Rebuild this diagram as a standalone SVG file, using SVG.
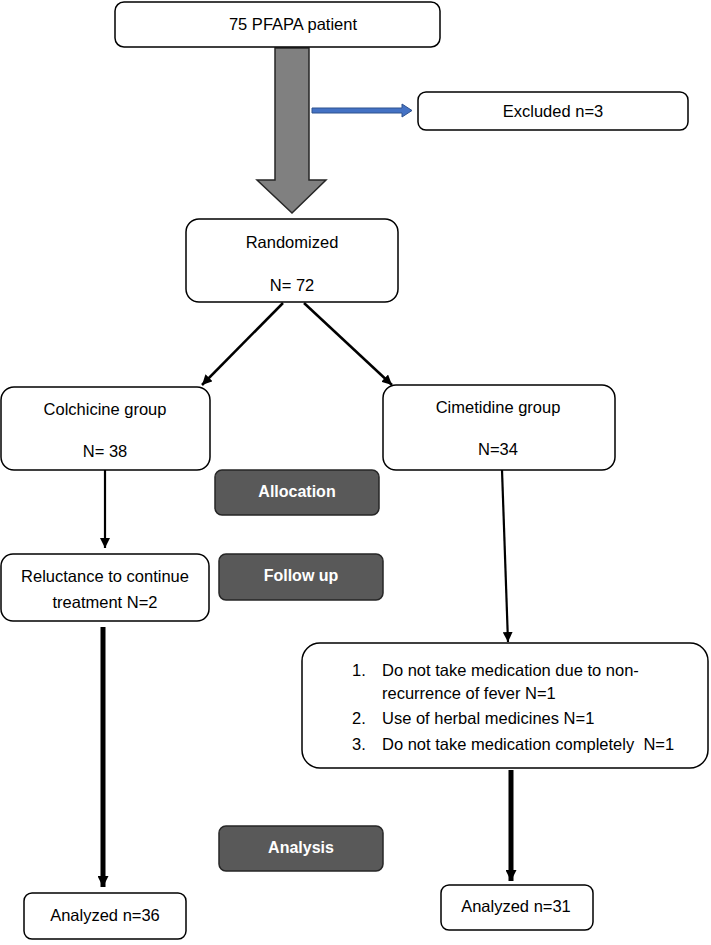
<svg xmlns="http://www.w3.org/2000/svg" width="711" height="945" viewBox="0 0 711 945">
<defs>
<marker id="ah" viewBox="0 0 10 10" refX="10" refY="5" markerWidth="10" markerHeight="10" markerUnits="userSpaceOnUse" orient="auto">
<path d="M0,0 L10,5 L0,10 z" fill="#000"/>
</marker>
<marker id="ahb" viewBox="0 0 10 10" refX="10" refY="5" markerWidth="11" markerHeight="11" markerUnits="userSpaceOnUse" orient="auto">
<path d="M0,0 L10,5 L0,10 z" fill="#000"/>
</marker>
</defs>
<style>
.box{fill:#fff;stroke:#000;stroke-width:1.5}
.dark{fill:#595959;stroke:#262626;stroke-width:1.5}
.t{font-family:"Liberation Sans",Arial,sans-serif;font-size:16.5px;fill:#000}
.c{text-anchor:middle}
.w{font-family:"Liberation Sans",Arial,sans-serif;font-size:16px;font-weight:bold;fill:#fff;text-anchor:middle}
.ln{stroke:#000;fill:none}
</style>
<rect width="711" height="945" fill="#fff"/>

<g id="connectors">
<polygon points="275,48 309,48 309,180 326,180 292,213 257,180 275,180" fill="#808080" stroke="#262626" stroke-width="1.5"/>
<polygon points="312,108 402,108 402,104 412,110.5 402,117 402,113 312,113" fill="#4472C4" stroke="#2F528F" stroke-width="1"/>
<line class="ln" x1="283" y1="303" x2="202" y2="385" stroke-width="2.5" marker-end="url(#ah)"/>
<line class="ln" x1="304" y1="303" x2="392" y2="385" stroke-width="2.5" marker-end="url(#ah)"/>
<line class="ln" x1="105" y1="470" x2="105" y2="548" stroke-width="2.2" marker-end="url(#ah)"/>
<line class="ln" x1="502" y1="470" x2="508" y2="642" stroke-width="2.2" marker-end="url(#ah)"/>
<line class="ln" x1="103" y1="627" x2="103" y2="887" stroke-width="5" marker-end="url(#ahb)"/>
<line class="ln" x1="511" y1="770" x2="511" y2="881" stroke-width="5" marker-end="url(#ahb)"/>
</g>

<g id="n_top">
<rect class="box" x="115" y="2" width="325" height="45" rx="9"/>
<text class="t c" x="293" y="30">75 PFAPA patient</text>
</g>
<g id="n_excluded">
<rect class="box" x="418" y="92" width="270" height="38" rx="8"/>
<text class="t c" x="553" y="117">Excluded n=3</text>
</g>
<g id="n_random">
<rect class="box" x="186" y="219" width="212" height="83" rx="13"/>
<text class="t c" x="292" y="248">Randomized</text>
<text class="t c" x="292" y="291">N= 72</text>
</g>
<g id="n_colch">
<rect class="box" x="1" y="387" width="209" height="83" rx="13"/>
<text class="t c" x="105" y="415">Colchicine group</text>
<text class="t c" x="105" y="457">N= 38</text>
</g>
<g id="n_cimet">
<rect class="box" x="383" y="385" width="232" height="85" rx="13"/>
<text class="t c" x="498" y="413">Cimetidine group</text>
<text class="t c" x="498" y="455">N=34</text>
</g>
<g id="n_allocation">
<rect class="dark" x="215" y="470" width="164" height="45" rx="7"/>
<text class="w" x="297" y="497">Allocation</text>
</g>
<g id="n_reluct">
<rect class="box" x="1" y="554" width="208" height="67" rx="12"/>
<text class="t c" x="105" y="582">Reluctance to continue</text>
<text class="t c" x="105" y="608">treatment N=2</text>
</g>
<g id="n_followup">
<rect class="dark" x="219" y="554" width="164" height="46" rx="7"/>
<text class="w" x="301" y="581">Follow up</text>
</g>
<g id="n_reasons">
<rect class="box" x="302" y="643" width="406" height="125" rx="18"/>
<text class="t" x="352" y="676">1.</text>
<text class="t" x="382" y="676">Do not take medication due to non-</text>
<text class="t" x="382" y="699">recurrence of fever N=1</text>
<text class="t" x="352" y="724">2.</text>
<text class="t" x="382" y="724">Use of herbal medicines N=1</text>
<text class="t" x="352" y="750">3.</text>
<text class="t" x="382" y="750">Do not take medication completely&#160; N=1</text>
</g>
<g id="n_analysis">
<rect class="dark" x="219" y="826" width="164" height="45" rx="7"/>
<text class="w" x="301" y="853">Analysis</text>
</g>
<g id="n_an36">
<rect class="box" x="24" y="893" width="162" height="46" rx="8"/>
<text class="t c" x="105" y="921">Analyzed n=36</text>
</g>
<g id="n_an31">
<rect class="box" x="441" y="885" width="152" height="45" rx="8"/>
<text class="t c" x="516" y="912">Analyzed n=31</text>
</g>
</svg>
